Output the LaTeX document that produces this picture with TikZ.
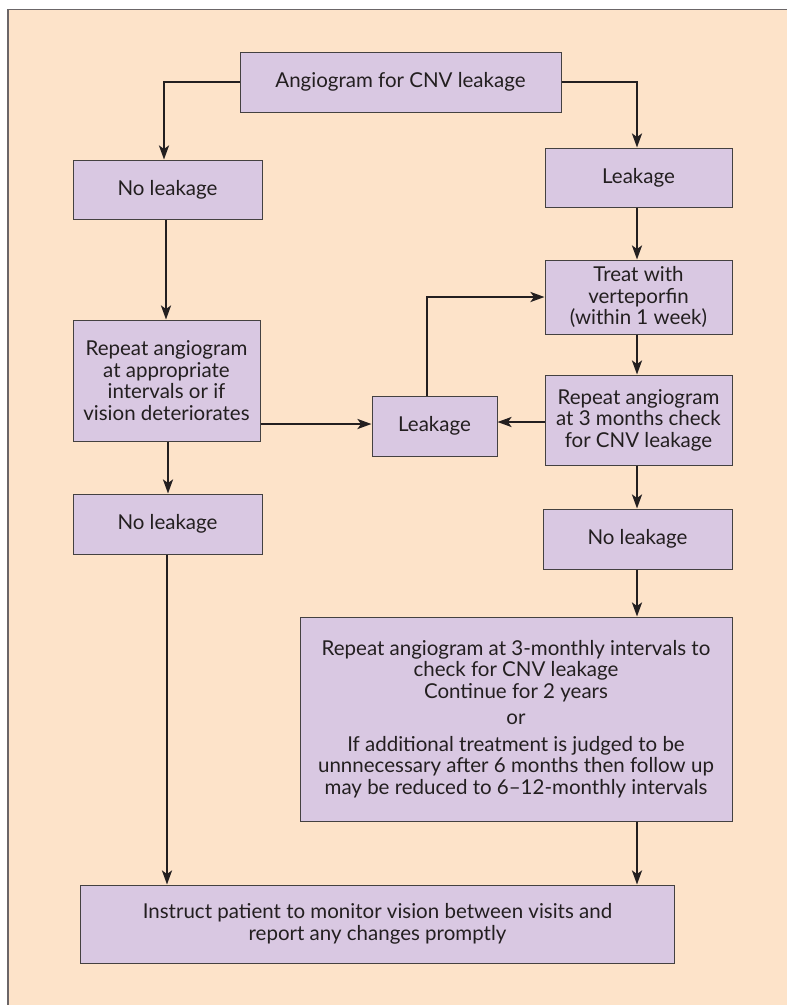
\documentclass[tikz,border=0pt]{standalone}
\usepackage{fontspec}
\setmainfont{Lato}
\usetikzlibrary{arrows.meta,calc}
\definecolor{peach}{HTML}{FDE3C9}
\definecolor{lav}{HTML}{D9C8E2}
\definecolor{ink}{HTML}{231F20}
\definecolor{frame}{HTML}{6B6668}
\begin{document}
\begin{tikzpicture}[x=1pt,y=-1pt,
  box/.style={draw=ink!85, fill=lav, line width=1pt, align=center, inner sep=0pt, text=ink,
    font=\fontsize{20.5}{21.5}\selectfont},
  arr/.style={draw=ink, line width=2.3pt, -{Stealth[length=14pt,width=10pt,inset=3.5pt]}}]
\useasboundingbox (0,0) rectangle (787,1005);
\fill[peach] (8,9.5) rectangle (787,1005);
\draw[frame, line width=1.5pt] (8,1005) -- (8,9.5) -- (787,9.5);

\node[box, minimum width=321pt, minimum height=60pt] (ang) at (400.5,82) {Angiogram for CNV leakage};
\node[box, minimum width=189pt, minimum height=59pt] (nl1) at (167.5,189.5) {No leakage};
\node[box, minimum width=187pt, minimum height=59pt] (lk1) at (638.5,177.5) {Leakage};
\node[box, minimum width=187pt, minimum height=121pt] (rep1) at (166.5,380.5) {Repeat angiogram\\at appropriate\\intervals or if\\vision deteriorates};
\node[box, minimum width=187pt, minimum height=74pt] (treat) at (638.5,297) {Treat with\\verteporfin\\(within 1 week)};
\node[box, minimum width=187pt, minimum height=90pt] (rep3) at (638.5,420) {Repeat angiogram\\at 3 months check\\for CNV leakage};
\node[box, minimum width=125pt, minimum height=60pt] (lk2) at (434.5,426) {Leakage};
\node[box, minimum width=189pt, minimum height=60pt] (nl2) at (167.5,524) {No leakage};
\node[box, minimum width=189pt, minimum height=60pt] (nl3) at (637.5,539) {No leakage};
\node[box, minimum width=432pt, minimum height=204pt] (big) at (516,719) {Repeat angiogram at 3-monthly intervals to\\check for CNV leakage\\Continue for 2 years\\[5pt] or\\[5pt] If additional treatment is judged to be\\unnnecessary after 6 months then follow up\\may be reduced to 6--12-monthly intervals};
\node[box, minimum width=594pt, minimum height=78pt] (fin) at (377.5,924) {Instruct patient to monitor vision between visits and\\report any changes promptly};

\coordinate (rx) at (637,0);
\coordinate (la) at (164,0);
\coordinate (lb) at (166,0);
\coordinate (lc) at (168,0);
\coordinate (ld) at (167,0);
\draw[arr] (ang.west) -| (la |- nl1.north);
\draw[arr] (ang.east) -| (rx |- lk1.north);
\draw[arr] (rx |- lk1.south) -- (rx |- treat.north);
\draw[arr] (rx |- treat.south) -- (rx |- rep3.north);
\draw[arr] (rx |- rep3.south) -- (rx |- nl3.north);
\draw[arr] (rx |- nl3.south) -- (rx |- big.north);
\draw[arr] (rx |- big.south) -- (rx |- fin.north);
\draw[arr] (lb |- nl1.south) -- (lb |- rep1.north);
\draw[arr] (lc |- rep1.south) -- (lc |- nl2.north);
\draw[arr] (ld |- nl2.south) -- (ld |- fin.north);
\draw[arr] (rep1.east |- 0,424) -- (lk2.west |- 0,424);
\draw[arr] (rep3.west |- 0,422) -- (lk2.east |- 0,422);
\draw[arr] ([xshift=-7.5pt]lk2.north) |- (treat.west |- 0,297);
\end{tikzpicture}
\end{document}
